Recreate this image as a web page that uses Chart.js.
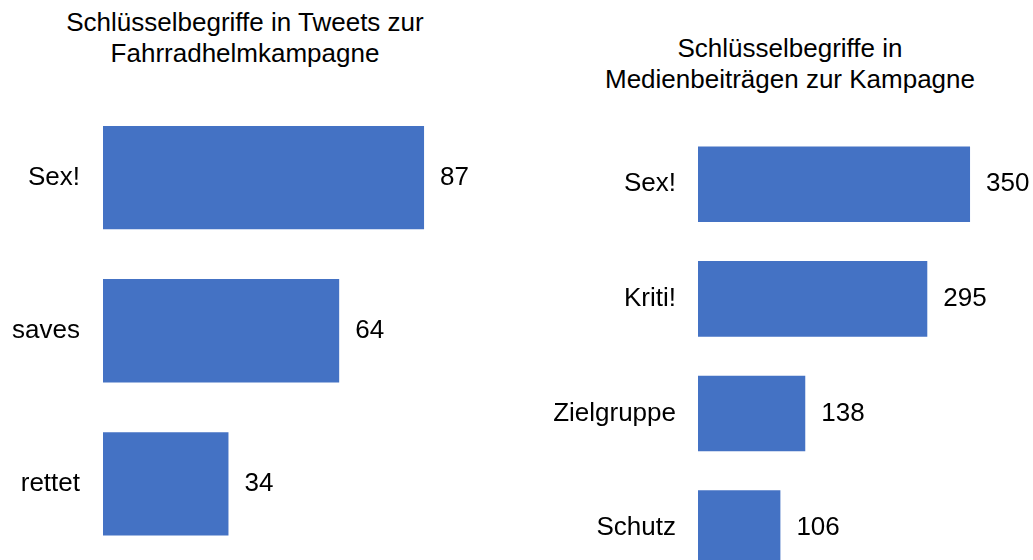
<!DOCTYPE html>
<html>
<head>
<meta charset="utf-8">
<script src="https://cdn.jsdelivr.net/npm/chart.js@4"></script>
<style>
  html, body { margin: 0; padding: 0; width: 1033px; height: 560px; overflow: hidden; background: #fff; }
  body { position: relative; font-family: "Liberation Sans", Arial, sans-serif; color: #000; }
  .title { position: absolute; text-align: center; font-size: 26px; line-height: 31px; }
  .box { position: absolute; }
</style>
</head>
<body>
<div class="title" id="tweetTitle" style="left:0; top:7px; width:490px;">Schlüsselbegriffe in Tweets zur<br>Fahrradhelmkampagne</div>
<div class="title" id="mediaTitle" style="left:590px; top:33px; width:400px;">Schlüsselbegriffe in<br>Medienbeiträgen zur Kampagne</div>
<!-- boxes are taller than the window: chart.js keeps label padding at the bottom, the overflow is cut -->
<div class="box" style="left:0; top:0; width:520px; height:599px;"><canvas id="tweetChart"></canvas></div>
<div class="box" style="left:520px; top:0; width:513px; height:623px;"><canvas id="mediaChart"></canvas></div>
<script>
const tweetLabels = ["Sex!", "saves", "rettet"];
const tweetValues = [87, 64, 34];

const mediaLabels = ["Sex!", "Kriti!", "Zielgruppe", "Schutz"];
const mediaValues = [350, 295, 138, 106];

const BAR_COLOR = "#4472C4";
const FONT = "Liberation Sans, Arial, sans-serif";

const valueLabels = {
  id: "valueLabels",
  afterDatasetsDraw(chart) {
    const ctx = chart.ctx;
    const meta = chart.getDatasetMeta(0);
    ctx.save();
    ctx.font = "26px " + FONT;
    ctx.fillStyle = "#000";
    ctx.textAlign = "left";
    ctx.textBaseline = "middle";
    meta.data.forEach((bar, i) => {
      ctx.fillText(chart.data.datasets[0].data[i], bar.x + 16, bar.y);
    });
    ctx.restore();
  }
};

function makeChart(id, labels, values, opts) {
  const ctx = document.getElementById(id).getContext("2d");
  return new Chart(ctx, {
    type: "bar",
    data: {
      labels: labels,
      datasets: [{
        data: values,
        backgroundColor: BAR_COLOR,
        categoryPercentage: 1,
        barPercentage: opts.barPct
      }]
    },
    options: {
      indexAxis: "y",
      responsive: true,
      maintainAspectRatio: false,
      animation: false,
      layout: { padding: { top: opts.top, right: 0, bottom: 0, left: 0 } },
      plugins: {
        legend: { display: false },
        tooltip: { enabled: false }
      },
      scales: {
        x: {
          display: false,
          min: 0,
          max: opts.max
        },
        y: {
          grid: { display: false, drawTicks: false },
          border: { display: false },
          ticks: {
            color: "#000",
            padding: opts.pad,
            font: { family: FONT, size: 26 }
          },
          afterFit(scale) {
            scale.width = opts.axisWidth;
          }
        }
      }
    },
    plugins: [valueLabels]
  });
}

window.onload = function () {
  makeChart("tweetChart", tweetLabels, tweetValues, { top: 101, max: 113, axisWidth: 103, pad: 23, barPct: 0.675 });
  makeChart("mediaChart", mediaLabels, mediaValues, { top: 127, max: 431, axisWidth: 178, pad: 22, barPct: 0.66 });
};
</script>
</body>
</html>
